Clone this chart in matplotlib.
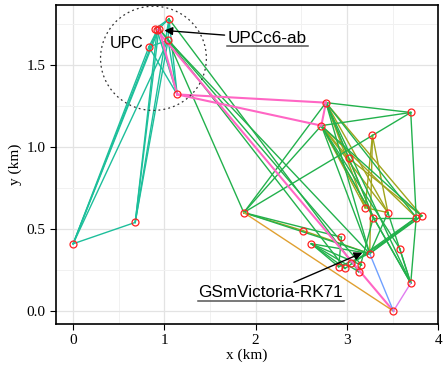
import numpy as np
import matplotlib.pyplot as plt
from matplotlib.patches import Ellipse
from matplotlib.text import Text
from matplotlib.ticker import MultipleLocator

# node positions (km)
node_x = [1.05, 0.92, 0.94, 0.90, 0.83, 1.04, 1.14, 0.68, 0.00, 1.87,
          2.77, 2.72, 3.70, 3.28, 3.02, 3.20, 3.29, 3.45, 3.76, 3.82,
          2.52, 2.94, 2.61, 3.25, 3.58, 3.70, 3.51, 2.91, 2.98, 3.13,
          3.16, 3.05]
node_y = [1.78, 1.71, 1.72, 1.72, 1.61, 1.65, 1.32, 0.54, 0.41, 0.60,
          1.27, 1.13, 1.21, 1.07, 0.93, 0.63, 0.57, 0.60, 0.57, 0.58,
          0.49, 0.45, 0.41, 0.35, 0.38, 0.17, 0.00, 0.27, 0.26, 0.24,
          0.28, 0.29]

# links grouped by colour
teal_links = [(8, 4), (8, 1), (8, 2), (8, 5), (8, 7), (7, 1), (7, 0), (7, 5),
              (7, 2), (4, 1), (4, 5), (1, 0), (0, 5), (1, 6), (4, 6), (0, 6),
              (5, 6), (2, 5), (3, 0)]
green_links = [(5, 9), (5, 23), (0, 29), (2, 30), (5, 28), (9, 10), (9, 12),
               (9, 21), (9, 23), (10, 12), (11, 12), (10, 18), (10, 16),
               (10, 23), (10, 25), (11, 23), (11, 25), (11, 24), (12, 18),
               (16, 18), (22, 23), (22, 29), (22, 30), (22, 27), (22, 28),
               (21, 27), (23, 18), (23, 19), (24, 25), (18, 25), (16, 25),
               (17, 25), (27, 23), (28, 19), (31, 18), (29, 16), (23, 17),
               (9, 11), (11, 19)]
olive_links = [(10, 14), (10, 15), (10, 17), (11, 14), (11, 15), (11, 16),
               (11, 18), (13, 23), (13, 17), (13, 15), (14, 16), (15, 17),
               (14, 19), (10, 19), (11, 17), (9, 20), (20, 23)]
pink_links = [(1, 26), (6, 10), (6, 11), (10, 11), (2, 6)]
orange_links = [(9, 26)]
blue_links = [(23, 26)]
violet_links = [(25, 26)]

link_groups = [
    (teal_links, "#1dbf9b", 1.0),
    (olive_links, "#a0a41c", 1.0),
    (green_links, "#22b14c", 1.0),
    (pink_links, "#ff66c4", 1.5),
    (orange_links, "#e0a030", 1.0),
    (blue_links, "#6fa0ff", 1.0),
    (violet_links, "#e07cf0", 1.0),
]

fig = plt.figure(figsize=(4.43, 3.72), dpi=100)
ax = fig.add_axes([0.126, 0.129, 0.863, 0.858])

for links, col, lw in link_groups:
    for a, b in links:
        ax.plot([node_x[a], node_x[b]], [node_y[a], node_y[b]],
                color=col, lw=lw, zorder=2)

ax.plot(node_x, node_y, 'o', ms=5, mfc='none', mec='#ff2020', mew=0.9,
        zorder=3)

# dotted circle around the UPC cluster
ax.add_patch(Ellipse((0.88, 1.54), 1.16, 0.635, fill=False, ls=(0, (1.5, 2.5)),
                     lw=0.9, color='#333333', zorder=4))
ax.text(0.59, 1.604, "UPC", fontsize=11.5, family='Liberation Sans',
        ha='center', va='baseline')

t1 = ax.annotate("UPCc6-ab", xy=(1.0, 1.71), xytext=(1.69, 1.634),
                 fontsize=12.3, family='Liberation Sans', va='baseline',
                 arrowprops=dict(arrowstyle='-|>', color='black', lw=1,
                                 mutation_scale=12, shrinkA=0, shrinkB=0))
t1.arrow_patch.set_positions((1.61, 1.66), (1.0, 1.71))
t2 = ax.annotate("GSmVictoria-RK71", xy=(3.17, 0.355), xytext=(1.365, 0.085),
                 fontsize=12.3, family='Liberation Sans', va='baseline',
                 arrowprops=dict(arrowstyle='-|>', color='black', lw=1,
                                 mutation_scale=12, shrinkA=0, shrinkB=0))
t2.arrow_patch.set_positions((2.14, 0.23), (3.17, 0.355))

ax.set_xlim(-0.19, 4.0)
ax.set_ylim(-0.079, 1.866)
ax.xaxis.set_major_locator(MultipleLocator(1))
ax.xaxis.set_minor_locator(MultipleLocator(0.5))
ax.yaxis.set_major_locator(MultipleLocator(0.5))
ax.yaxis.set_minor_locator(MultipleLocator(0.25))
ax.yaxis.set_major_formatter(plt.FormatStrFormatter('%.1f'))
ax.grid(which='major', color='#e3e3e3', lw=0.9, zorder=0)
ax.grid(which='minor', color='#f1f1f1', lw=0.7, zorder=0)
ax.set_axisbelow(True)
ax.tick_params(which='minor', length=0)
ax.tick_params(which='major', length=4, width=0.8, labelsize=11)
for lab in ax.get_xticklabels() + ax.get_yticklabels():
    lab.set_family('Liberation Serif')
for s in ax.spines.values():
    s.set_linewidth(1.2)
ax.set_xlabel("x (km)", family='Liberation Serif', fontsize=11, labelpad=1)
ax.set_ylabel("y (km)", family='Liberation Serif', fontsize=11, labelpad=3)

# underline the two labels (text box only, not the arrow)
fig.canvas.draw()
inv = ax.transData.inverted()
for t in (t1, t2):
    bb = Text.get_window_extent(t)
    base = ax.transData.transform(t.xyann)[1] - 3.5
    (x0, y0), (x1, _) = inv.transform([(bb.x0, base), (bb.x1 + 2, base)])
    ax.plot([x0, x1], [y0, y0], color='#555555', lw=1.1, zorder=5)

fig.savefig("out.png", dpi=100)
